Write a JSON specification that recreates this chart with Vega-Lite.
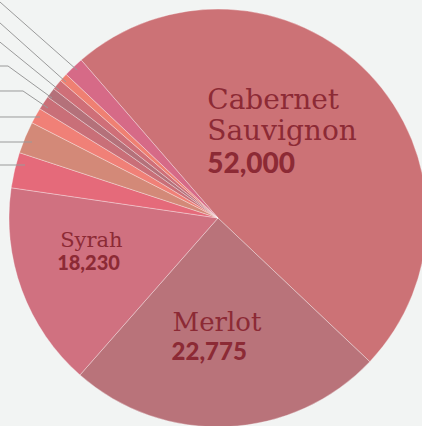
{
  "$schema": "https://vega.github.io/schema/vega-lite/v6.json",
  "width": 436,
  "height": 436,
  "autosize": "none",
  "padding": 0,
  "background": "#f2f4f3",
  "config": {"view": {"stroke": null}},
  "data": {
    "values": [
      {"variety": "Cabernet Sauvignon", "rank": 1, "share": 48.42, "name": "Cabernet\nSauvignon", "amount": 52000},
      {"variety": "Merlot", "rank": 2, "share": 24.42, "name": "Merlot", "amount": 22775},
      {"variety": "Syrah", "rank": 3, "share": 15.83, "name": "Syrah", "amount": 18230},
      {"variety": "Unlabelled 4", "rank": 4, "share": 2.75},
      {"variety": "Unlabelled 5", "rank": 5, "share": 2.47},
      {"variety": "Unlabelled 6", "rank": 6, "share": 1.22},
      {"variety": "Unlabelled 7", "rank": 7, "share": 1.08},
      {"variety": "Unlabelled 8", "rank": 8, "share": 0.78},
      {"variety": "Unlabelled 9", "rank": 9, "share": 0.81},
      {"variety": "Unlabelled 10", "rank": 10, "share": 0.64},
      {"variety": "Unlabelled 11", "rank": 11, "share": 1.58}
    ]
  },
  "layer": [
    {
      "mark": {"type": "arc", "outerRadius": 209, "stroke": "#ffffff", "strokeWidth": 0.8, "strokeOpacity": 0.4},
      "encoding": {
        "theta": {"field": "share", "type": "quantitative", "stack": true, "scale": {"range": [5.5694, 11.8526]}},
        "order": {"field": "rank", "type": "quantitative"},
        "color": {
          "field": "variety", "type": "nominal", "legend": null,
          "scale": {
            "domain": ["Cabernet Sauvignon", "Merlot", "Syrah", "Unlabelled 4", "Unlabelled 5", "Unlabelled 6", "Unlabelled 7", "Unlabelled 8", "Unlabelled 9", "Unlabelled 10", "Unlabelled 11"],
            "range": ["#cc7276", "#b9737a", "#d07180", "#e56a7a", "#d38978", "#f08077", "#c96f78", "#b4717a", "#cf6f78", "#ef8072", "#d66a87"]
          }
        }
      }
    },
    {
      "data": {
        "values": [
          {"id": 1, "pt": 1, "u": -1.0909, "v": 0.2536}, {"id": 1, "pt": 2, "u": -0.9234, "v": 0.2536},
          {"id": 2, "pt": 1, "u": -1.0909, "v": 0.3636}, {"id": 2, "pt": 2, "u": -0.8900, "v": 0.3636},
          {"id": 3, "pt": 1, "u": -1.0909, "v": 0.4833}, {"id": 3, "pt": 2, "u": -0.8517, "v": 0.4833},
          {"id": 4, "pt": 1, "u": -1.0909, "v": 0.6077}, {"id": 4, "pt": 2, "u": -0.9330, "v": 0.6077}, {"id": 4, "pt": 3, "u": -0.8134, "v": 0.5263},
          {"id": 5, "pt": 1, "u": -1.0909, "v": 0.7273}, {"id": 5, "pt": 2, "u": -1.0048, "v": 0.7273}, {"id": 5, "pt": 3, "u": -0.7943, "v": 0.5742},
          {"id": 6, "pt": 1, "u": -1.0909, "v": 0.8804}, {"id": 6, "pt": 2, "u": -0.7608, "v": 0.6124},
          {"id": 7, "pt": 1, "u": -1.0909, "v": 0.9761}, {"id": 7, "pt": 2, "u": -0.7273, "v": 0.6507},
          {"id": 8, "pt": 1, "u": -1.0909, "v": 1.0756}, {"id": 8, "pt": 2, "u": -0.6746, "v": 0.7081}
        ]
      },
      "mark": {"type": "line", "color": "#9a9a9a", "strokeWidth": 1},
      "encoding": {
        "x": {"field": "u", "type": "quantitative", "axis": null, "scale": {"domain": [-1.0431, 1.0431], "nice": false, "zero": false}},
        "y": {"field": "v", "type": "quantitative", "axis": null, "scale": {"domain": [-1.0431, 1.0431], "nice": false, "zero": false}},
        "detail": {"field": "id", "type": "nominal"},
        "order": {"field": "pt", "type": "quantitative"}
      }
    },
    {
      "mark": {"type": "text", "radius": 100, "dx": -83, "dy": -40, "align": "left", "baseline": "alphabetic", "font": "DejaVu Serif", "fontSize": 28, "lineBreak": "\n", "lineHeight": 31, "color": "#8c2a35"},
      "encoding": {
        "theta": {"field": "share", "type": "quantitative", "stack": true},
        "order": {"field": "rank", "type": "quantitative"},
        "text": {"condition": {"test": "datum.variety === 'Cabernet Sauvignon'", "field": "name"}, "value": ""}
      }
    },
    {
      "mark": {"type": "text", "radius": 100, "dx": -83, "dy": 24, "align": "left", "baseline": "alphabetic", "font": "Lato", "fontWeight": 900, "fontSize": 28, "color": "#8c2a35"},
      "encoding": {
        "theta": {"field": "share", "type": "quantitative", "stack": true},
        "order": {"field": "rank", "type": "quantitative"},
        "text": {"condition": {"test": "datum.variety === 'Cabernet Sauvignon'", "field": "amount", "type": "quantitative", "format": ","}, "value": ""}
      }
    },
    {
      "mark": {"type": "text", "radius": 100, "dx": -50, "dy": 13, "align": "left", "baseline": "alphabetic", "font": "DejaVu Serif", "fontSize": 26, "color": "#8c2a35"},
      "encoding": {
        "theta": {"field": "share", "type": "quantitative", "stack": true},
        "order": {"field": "rank", "type": "quantitative"},
        "text": {"condition": {"test": "datum.variety === 'Merlot'", "field": "name"}, "value": ""}
      }
    },
    {
      "mark": {"type": "text", "radius": 100, "dx": -51, "dy": 42, "align": "left", "baseline": "alphabetic", "font": "Lato", "fontWeight": 900, "fontSize": 24, "color": "#8c2a35"},
      "encoding": {
        "theta": {"field": "share", "type": "quantitative", "stack": true},
        "order": {"field": "rank", "type": "quantitative"},
        "text": {"condition": {"test": "datum.variety === 'Merlot'", "field": "amount", "type": "quantitative", "format": ","}, "value": ""}
      }
    },
    {
      "mark": {"type": "text", "radius": 100, "dx": -64, "dy": -5, "align": "left", "baseline": "alphabetic", "font": "DejaVu Serif", "fontSize": 21, "color": "#8c2a35"},
      "encoding": {
        "theta": {"field": "share", "type": "quantitative", "stack": true},
        "order": {"field": "rank", "type": "quantitative"},
        "text": {"condition": {"test": "datum.variety === 'Syrah'", "field": "name"}, "value": ""}
      }
    },
    {
      "mark": {"type": "text", "radius": 100, "dx": -67, "dy": 18, "align": "left", "baseline": "alphabetic", "font": "Lato", "fontWeight": 900, "fontSize": 20, "color": "#8c2a35"},
      "encoding": {
        "theta": {"field": "share", "type": "quantitative", "stack": true},
        "order": {"field": "rank", "type": "quantitative"},
        "text": {"condition": {"test": "datum.variety === 'Syrah'", "field": "amount", "type": "quantitative", "format": ","}, "value": ""}
      }
    }
  ]
}
